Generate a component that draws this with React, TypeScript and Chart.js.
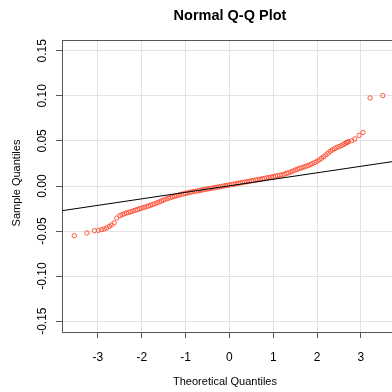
import { useEffect, useRef } from "react";
import { Chart, registerables } from "chart.js";

Chart.register(...registerables);

const theoreticalQuantiles: number[] = [
  -3.54, -3.25, -3.08, -2.99, -2.92, -2.86, -2.8, -2.74, -2.69, -2.63, -2.57, -2.5,
  -2.45, -2.4, -2.35, -2.3, -2.25, -2.2, -2.15, -2.1, -2.05, -2.0,
  -1.95, -1.9, -1.85, -1.8, -1.75, -1.7, -1.65, -1.6, -1.55, -1.5,
  -1.45, -1.4, -1.35, -1.3, -1.25, -1.2, -1.15, -1.1, -1.05, -1.0,
  -0.95, -0.9, -0.85, -0.8, -0.75, -0.7, -0.65, -0.6, -0.55, -0.5,
  -0.45, -0.4, -0.35, -0.3, -0.25, -0.2, -0.15, -0.1, -0.05, 0.0,
  0.05, 0.1, 0.15, 0.2, 0.25, 0.3, 0.35, 0.4, 0.45, 0.5,
  0.55, 0.6, 0.65, 0.7, 0.75, 0.8, 0.85, 0.9, 0.95, 1.0,
  1.05, 1.1, 1.15, 1.2, 1.25, 1.3, 1.35, 1.4, 1.45, 1.5,
  1.55, 1.6, 1.65, 1.7, 1.75, 1.8, 1.85, 1.9, 1.95, 2.0,
  2.05, 2.1, 2.15, 2.2, 2.25, 2.3, 2.35, 2.4, 2.45, 2.5,
  2.55, 2.6, 2.64, 2.67, 2.69,
  2.72, 2.79, 2.86, 2.96, 3.05, 3.21, 3.5,
];

const sampleQuantiles: number[] = [
  -0.0551, -0.0521, -0.0496, -0.0492, -0.0484, -0.0477, -0.0466, -0.0448, -0.0432, -0.041, -0.0355, -0.0329,
  -0.0318, -0.0308, -0.03, -0.0293, -0.0285, -0.0277, -0.0269, -0.0261, -0.0253, -0.0245,
  -0.0237, -0.023, -0.0222, -0.0214, -0.0205, -0.0196, -0.0186, -0.0176, -0.0166, -0.0156,
  -0.0146, -0.0137, -0.0129, -0.0121, -0.0114, -0.0107, -0.01, -0.0093, -0.0087, -0.0081,
  -0.0076, -0.007, -0.0065, -0.006, -0.0056, -0.0051, -0.0047, -0.0042, -0.0038, -0.0033,
  -0.0029, -0.0024, -0.002, -0.0015, -0.0011, -0.0006, -0.0002, 0.0003, 0.0007, 0.0012,
  0.0016, 0.0021, 0.0025, 0.003, 0.0034, 0.0039, 0.0043, 0.0048, 0.0052, 0.0057,
  0.0061, 0.0066, 0.007, 0.0075, 0.0079, 0.0084, 0.0089, 0.0094, 0.0099, 0.0104,
  0.0109, 0.0114, 0.0119, 0.0124, 0.0131, 0.0139, 0.0147, 0.0156, 0.0166, 0.0176,
  0.0186, 0.0195, 0.0203, 0.0211, 0.0219, 0.0228, 0.0238, 0.0249, 0.0261, 0.0275,
  0.029, 0.0307, 0.0325, 0.0344, 0.0364, 0.0384, 0.04, 0.0414, 0.0427, 0.0437,
  0.0447, 0.046, 0.0472, 0.048, 0.0485,
  0.0492, 0.0503, 0.0522, 0.0562, 0.0595, 0.0977, 0.1003,
];

const refLineX: number[] = [-3.82, 3.71];
const refLineY: number[] = [-0.0274, 0.027];

const xTickValues: number[] = [-3, -2, -1, 0, 1, 2, 3];
const yTickValues: number[] = [-0.15, -0.1, -0.05, 0, 0.05, 0.1, 0.15];
const yTickLabels: string[] = ["-0.15", "-0.10", "-0.05", "0.00", "0.05", "0.10", "0.15"];

const chartTitle = "Normal Q-Q Plot";
const xAxisTitle = "Theoretical Quantiles";
const yAxisTitle = "Sample Quantiles";

const FONT = '"Liberation Sans", Arial, Helvetica, sans-serif';
const POINT_COLOR = "rgb(255, 84, 58)";
const AXIS_COLOR = "#555555";
const GRID_COLOR = "#e2e2e2";

export default function App() {
  const canvasRef = useRef<HTMLCanvasElement | null>(null);

  useEffect(() => {
    if (!canvasRef.current) return;

    const textPlugin = {
      id: "rTextDecor",
      afterDraw(chart: any) {
        const ctx = chart.ctx as CanvasRenderingContext2D;
        const { left, top, right } = chart.chartArea;
        ctx.save();
        ctx.strokeStyle = AXIS_COLOR;
        ctx.lineWidth = 1;
        ctx.beginPath();
        ctx.moveTo(left, Math.round(top) + 0.5);
        ctx.lineTo(right, Math.round(top) + 0.5);
        ctx.stroke();

        ctx.fillStyle = "#000";
        ctx.textAlign = "center";
        ctx.textBaseline = "middle";

        ctx.font = `bold 14.5px ${FONT}`;
        ctx.fillText(chartTitle, 230, 15.5);

        ctx.font = `11px ${FONT}`;
        ctx.fillText(xAxisTitle, 225, 382);

        ctx.save();
        ctx.translate(17, 183);
        ctx.rotate(-Math.PI / 2);
        ctx.fillText(yAxisTitle, 0, 0);
        ctx.restore();

        const ys = chart.scales.y;
        ctx.font = `12px ${FONT}`;
        yTickValues.forEach((v, i) => {
          ctx.save();
          ctx.translate(43, ys.getPixelForValue(v));
          ctx.rotate(-Math.PI / 2);
          ctx.fillText(yTickLabels[i], 0, 0);
          ctx.restore();
        });
        ctx.restore();
      },
    };

    const chart = new Chart(canvasRef.current, {
      type: "scatter",
      data: {
        datasets: [
          {
            type: "line",
            label: "qqline",
            data: refLineX.map((x, i) => ({ x, y: refLineY[i] })),
            borderColor: "#000",
            borderWidth: 1,
            pointRadius: 0,
            showLine: true,
            fill: false,
            order: 0,
          } as any,
          {
            label: "sample",
            data: theoreticalQuantiles.map((x, i) => ({ x, y: sampleQuantiles[i] })),
            pointStyle: "circle",
            pointRadius: 2.2,
            pointBorderWidth: 1,
            borderColor: POINT_COLOR,
            backgroundColor: "rgba(0,0,0,0)",
            order: 1,
          },
        ],
      },
      options: {
        animation: false,
        responsive: false,
        maintainAspectRatio: false,
        layout: { autoPadding: false, padding: { top: 40, right: 0, bottom: 0, left: 0 } },
        plugins: {
          legend: { display: false },
          tooltip: { enabled: false },
          title: { display: false },
        },
        scales: {
          x: {
            type: "linear",
            min: -3.82,
            max: 3.71,
            afterBuildTicks: (scale: any) => {
              scale.ticks = xTickValues.map((value) => ({ value }));
            },
            afterFit: (scale: any) => {
              scale.height = 60;
              scale.paddingLeft = 0;
              scale.paddingRight = 0;
            },
            grid: {
              color: GRID_COLOR,
              tickColor: AXIS_COLOR,
              tickLength: 6,
              lineWidth: 1,
            },
            border: { color: AXIS_COLOR, width: 1 },
            ticks: {
              color: "#000",
              font: { family: FONT, size: 12 },
              padding: 12,
              maxRotation: 0,
              minRotation: 0,
              callback: (v: any) => String(v),
            },
          },
          y: {
            type: "linear",
            min: -0.162,
            max: 0.162,
            afterBuildTicks: (scale: any) => {
              scale.ticks = yTickValues.map((value) => ({ value }));
            },
            afterFit: (scale: any) => {
              scale.width = 62;
              scale.paddingTop = 0;
              scale.paddingBottom = 0;
            },
            grid: {
              color: GRID_COLOR,
              tickColor: AXIS_COLOR,
              tickLength: 6,
              lineWidth: 1,
            },
            border: { color: AXIS_COLOR, width: 1 },
            ticks: { display: false },
          },
        },
      },
      plugins: [textPlugin],
    });

    return () => chart.destroy();
  }, []);

  return (
    <div style={{ position: "fixed", left: 0, top: 0, width: 392, height: 392, background: "#fff" }}>
      <canvas ref={canvasRef} width={392} height={392} style={{ display: "block" }} />
    </div>
  );
}
